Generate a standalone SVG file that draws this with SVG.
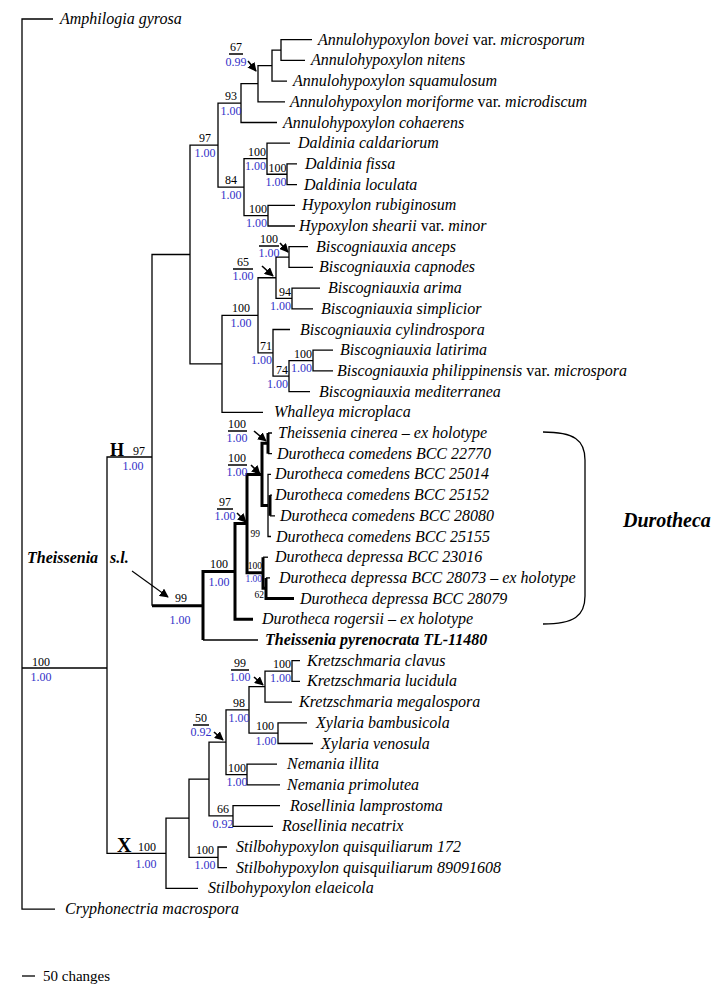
<svg xmlns="http://www.w3.org/2000/svg" width="718" height="990" viewBox="0 0 718 990">
<style>
.br{fill:none;stroke:#000;stroke-width:1.3}
.tk{fill:none;stroke:#000;stroke-width:3}
.ar{fill:none;stroke:#000;stroke-width:1.6}
.t{font-family:"Liberation Serif","Times New Roman",serif;font-style:italic;font-size:16px;fill:#000}
.r{font-style:normal}
.bd{font-weight:bold}
.n{font-family:"Liberation Serif","Times New Roman",serif;font-size:12px;fill:#000}
.p{font-family:"Liberation Serif","Times New Roman",serif;font-size:12px;fill:#3232c8}
.sm{font-size:9.5px}
.e{text-anchor:end}
.m{text-anchor:middle}
.cl{font-family:"Liberation Serif","Times New Roman",serif;font-weight:bold;fill:#000}
</style>
<defs>
<marker id="ah" viewBox="0 0 10 10" refX="9" refY="5" markerWidth="9" markerHeight="9" markerUnits="userSpaceOnUse" orient="auto"><path d="M0,0 L10,5 L0,10 z" fill="#000"/></marker>
</defs>
<rect width="718" height="990" fill="#fff"/>
<g id="connectors">
<path class="br" d="M53,19 H22 V909.1 H55 M22,668 H107"/>
<path class="br" d="M152,457 H107 V853.3 H166"/>
<path class="br" d="M190,254.5 H152 V605.7"/>
<path class="br" d="M218,145.15 H190 V363.8 H222"/>
<path class="br" d="M241,103.1 H218 V187.2 H244"/>
<path class="br" d="M258,83.7 H241 V122.5 H277"/>
<path class="br" d="M272,65.6 H258 V101.8 H285"/>
<path class="br" d="M281,50.05 H272 V81.1 H287"/>
<path class="br" d="M312,39.7 H281 V60.4 H305"/>
<path class="br" d="M267,158.7 H244 V215.65 H268"/>
<path class="br" d="M290,143.2 H267 V174.25 H287"/>
<path class="br" d="M297,163.9 H287 V184.6 H297"/>
<path class="br" d="M295,205.3 H268 V226 H295"/>
<path class="br" d="M258,315.3 H222 V412.3 H263"/>
<path class="br" d="M276,277.75 H258 V352.8 H273"/>
<path class="br" d="M289,257.05 H276 V298.45 H292"/>
<path class="br" d="M308,246.7 H289 V267.4 H313"/>
<path class="br" d="M320,288.1 H292 V308.8 H313"/>
<path class="br" d="M290,329.5 H273 V376.1 H289"/>
<path class="br" d="M313,360.55 H289 V391.6 H310"/>
<path class="br" d="M333,350.2 H313 V370.9 H333"/>
<path class="tk" d="M152,605.7 H203"/>
<path class="tk" d="M203,640 V571.4 H235"/>
<path class="br" d="M203,640 H258"/>
<path class="tk" d="M247,523.55 H235 V619.3 H253"/>
<path class="tk" d="M262,474.4 H247 V572.7 H263"/>
<path class="tk" d="M268,443.35 H262 V505.45 H268"/>
<path class="tk" d="M268,433 V453.7"/>
<path class="br" d="M268,433 H272 M268,453.7 H272"/>
<path class="br" d="M271,474.4 H268 V536.5 H271"/>
<path class="tk" d="M270,495.1 V515.8"/>
<path class="br" d="M270,495.1 H272 M270,515.8 H275"/>
<path class="tk" d="M263,557.2 V588.25 H266"/>
<path class="br" d="M263,557.2 H268"/>
<path class="tk" d="M266,577.9 V598.6 H294"/>
<path class="br" d="M266,577.9 H270"/>
<path class="br" d="M189,818.2 H166 V888.4 H198"/>
<path class="br" d="M209,779.1 H189 V857.35 H218"/>
<path class="br" d="M227,847 H218 V867.7 H227"/>
<path class="br" d="M226,742.2 H209 V815.95 H233"/>
<path class="br" d="M280,805.6 H233 V826.3 H273"/>
<path class="br" d="M249,709.9 H226 V774.55 H247"/>
<path class="br" d="M277,764.2 H247 V784.9 H280"/>
<path class="br" d="M265,686.6 H249 V733.15 H278"/>
<path class="br" d="M307,722.8 H278 V743.5 H313"/>
<path class="br" d="M292,671.05 H265 V702.1 H292"/>
<path class="br" d="M300,660.7 H292 V681.4 H300"/>
<path class="ar" d="M248,61 L256,71" marker-end="url(#ah)"/>
<path class="ar" d="M280,243 L288,252" marker-end="url(#ah)"/>
<path class="ar" d="M262,266 L273,276" marker-end="url(#ah)"/>
<path class="ar" d="M254,431 L266,441" marker-end="url(#ah)"/>
<path class="ar" d="M251,465 L260,474" marker-end="url(#ah)"/>
<path class="ar" d="M237,513 L246,522" marker-end="url(#ah)"/>
<path class="ar" d="M254,677 L263,685" marker-end="url(#ah)"/>
<path class="ar" d="M214,732 L223,740" marker-end="url(#ah)"/>
<path d="M132,571 L168,597" fill="none" stroke="#000" stroke-width="1.1" marker-end="url(#ah)"/>
<path class="br" d="M229,54 H243 M259,246 H279 M233,269 H253 M228,431 H247 M228,465 H247 M217,509 H233 M231,670 H249 M193,725 H209"/>
<path class="br" d="M543,432 C574,432 585,440 585,460 V596 C585,616 574,624 543,624"/>
<path class="br" d="M22,976 H35"/>
</g>
<g id="leaves">
<g id="n1"><text class="t" x="60" y="24">Amphilogia gyrosa</text></g>
<g id="n2"><text class="t" x="318" y="44.7">Annulohypoxylon bovei<tspan class="r"> var. </tspan>microsporum</text></g>
<g id="n3"><text class="t" x="311" y="65.4">Annulohypoxylon nitens</text></g>
<g id="n4"><text class="t" x="293" y="86.1">Annulohypoxylon squamulosum</text></g>
<g id="n5"><text class="t" x="290" y="106.8">Annulohypoxylon moriforme<tspan class="r"> var. </tspan>microdiscum</text></g>
<g id="n6"><text class="t" x="283" y="127.5">Annulohypoxylon cohaerens</text></g>
<g id="n7"><text class="t" x="298" y="148.2">Daldinia caldariorum</text></g>
<g id="n8"><text class="t" x="305" y="168.9">Daldinia fissa</text></g>
<g id="n9"><text class="t" x="304" y="189.6">Daldinia loculata</text></g>
<g id="n10"><text class="t" x="302" y="210.3">Hypoxylon rubiginosum</text></g>
<g id="n11"><text class="t" x="299" y="231">Hypoxylon shearii<tspan class="r"> var. </tspan>minor</text></g>
<g id="n12"><text class="t" x="316" y="251.7">Biscogniauxia anceps</text></g>
<g id="n13"><text class="t" x="319" y="272.4">Biscogniauxia capnodes</text></g>
<g id="n14"><text class="t" x="328" y="293.1">Biscogniauxia arima</text></g>
<g id="n15"><text class="t" x="321" y="313.8">Biscogniauxia simplicior</text></g>
<g id="n16"><text class="t" x="300" y="334.5">Biscogniauxia cylindrospora</text></g>
<g id="n17"><text class="t" x="340" y="355.2">Biscogniauxia latirima</text></g>
<g id="n18"><text class="t" x="337" y="375.9">Biscogniauxia philippinensis<tspan class="r"> var. </tspan>microspora</text></g>
<g id="n19"><text class="t" x="319" y="396.6">Biscogniauxia mediterranea</text></g>
<g id="n20"><text class="t" x="274" y="417.3">Whalleya microplaca</text></g>
<g id="n21"><text class="t" x="278" y="438">Theissenia cinerea – ex holotype</text></g>
<g id="n22"><text class="t" x="277" y="458.7">Durotheca comedens BCC 22770</text></g>
<g id="n23"><text class="t" x="275" y="479.4">Durotheca comedens BCC 25014</text></g>
<g id="n24"><text class="t" x="275" y="500.1">Durotheca comedens BCC 25152</text></g>
<g id="n25"><text class="t" x="280" y="520.8">Durotheca comedens BCC 28080</text></g>
<g id="n26"><text class="t" x="276" y="541.5">Durotheca comedens BCC 25155</text></g>
<g id="n27"><text class="t" x="275" y="562.2">Durotheca depressa BCC 23016</text></g>
<g id="n28"><text class="t" x="279" y="582.9">Durotheca depressa BCC 28073 – ex holotype</text></g>
<g id="n29"><text class="t" x="300" y="603.6">Durotheca depressa BCC 28079</text></g>
<g id="n30"><text class="t" x="262" y="624.3">Durotheca rogersii – ex holotype</text></g>
<g id="n31"><text class="t bd" x="265" y="645">Theissenia pyrenocrata TL-11480</text></g>
<g id="n32"><text class="t" x="307" y="665.7">Kretzschmaria clavus</text></g>
<g id="n33"><text class="t" x="307" y="686.4">Kretzschmaria lucidula</text></g>
<g id="n34"><text class="t" x="299" y="707.1">Kretzschmaria megalospora</text></g>
<g id="n35"><text class="t" x="316" y="727.8">Xylaria bambusicola</text></g>
<g id="n36"><text class="t" x="321" y="748.5">Xylaria venosula</text></g>
<g id="n37"><text class="t" x="287" y="769.2">Nemania illita</text></g>
<g id="n38"><text class="t" x="287" y="789.9">Nemania primolutea</text></g>
<g id="n39"><text class="t" x="290" y="810.6">Rosellinia lamprostoma</text></g>
<g id="n40"><text class="t" x="282" y="831.3">Rosellinia necatrix</text></g>
<g id="n41"><text class="t" x="236" y="852">Stilbohypoxylon quisquiliarum 172</text></g>
<g id="n42"><text class="t" x="236" y="872.7">Stilbohypoxylon quisquiliarum 89091608</text></g>
<g id="n43"><text class="t" x="208" y="893.4">Stilbohypoxylon elaeicola</text></g>
<g id="n44"><text class="t" x="65" y="914.1">Cryphonectria macrospora</text></g>
</g>
<g id="supports">
<g id="s1"><text class="n m" x="236" y="51">67</text><text class="p m" x="236" y="66">0.99</text></g>
<g id="s2"><text class="n m" x="231" y="100">93</text><text class="p m" x="231" y="115">1.00</text></g>
<g id="s3"><text class="n m" x="205" y="142">97</text><text class="p m" x="205" y="157">1.00</text></g>
<g id="s4"><text class="n m" x="231" y="184">84</text><text class="p m" x="231" y="199">1.00</text></g>
<g id="s5"><text class="n e" x="266" y="156">100</text><text class="p e" x="266" y="170">1.00</text></g>
<g id="s6"><text class="n e" x="286.5" y="172">100</text><text class="p e" x="286.5" y="186">1.00</text></g>
<g id="s7"><text class="n e" x="267" y="213">100</text><text class="p e" x="267" y="227">1.00</text></g>
<g id="s8"><text class="n m" x="269" y="243">100</text><text class="p m" x="269" y="257">1.00</text></g>
<g id="s9"><text class="n m" x="243" y="266">65</text><text class="p m" x="243" y="280">1.00</text></g>
<g id="s10"><text class="n e" x="291" y="296">94</text><text class="p e" x="291" y="310">1.00</text></g>
<g id="s11"><text class="n m" x="241" y="312">100</text><text class="p m" x="241" y="327">1.00</text></g>
<g id="s12"><text class="n e" x="272" y="350">71</text><text class="p e" x="272" y="364">1.00</text></g>
<g id="s13"><text class="n e" x="312" y="358">100</text><text class="p e" x="312" y="372">1.00</text></g>
<g id="s14"><text class="n e" x="288" y="374">74</text><text class="p e" x="288" y="388">1.00</text></g>
<g id="sH"><text class="cl" x="110" y="456" style="font-size:18px">H</text><text class="n" x="133" y="455">97</text><text class="p m" x="133" y="470">1.00</text></g>
<g id="s16"><text class="n m" x="237" y="428">100</text><text class="p m" x="237" y="442">1.00</text></g>
<g id="s17"><text class="n m" x="237" y="462">100</text><text class="p m" x="237" y="476">1.00</text></g>
<g id="s18"><text class="n m" x="225" y="506">97</text><text class="p m" x="225" y="520">1.00</text></g>
<g id="s19"><text class="n sm e" x="260" y="537">99</text></g>
<g id="s20"><text class="n sm e" x="262" y="569">100</text><text class="p sm e" x="262" y="582">1.00</text></g>
<g id="s21"><text class="n sm e" x="264" y="598">62</text></g>
<g id="s22"><text class="n m" x="219" y="568">100</text><text class="p m" x="219" y="586">1.00</text></g>
<g id="s23"><text class="n m" x="181" y="602">99</text><text class="p m" x="180" y="624">1.00</text></g>
<g id="sT"><text class="t bd" x="27" y="563">Theissenia</text><text class="t bd" x="110" y="563">s.l.</text></g>
<g id="sR"><text class="n m" x="41" y="666">100</text><text class="p m" x="41" y="681">1.00</text></g>
<g id="sX"><text class="cl" x="117" y="852" style="font-size:20px">X</text><text class="n" x="138" y="851">100</text><text class="p m" x="146" y="868">1.00</text></g>
<g id="s27"><text class="n m" x="240" y="667">99</text><text class="p m" x="240" y="681">1.00</text></g>
<g id="s28"><text class="n e" x="291" y="668">100</text><text class="p e" x="291" y="682">1.00</text></g>
<g id="s29"><text class="n m" x="239" y="707">98</text><text class="p m" x="239" y="722">1.00</text></g>
<g id="s30"><text class="n m" x="201" y="722">50</text><text class="p m" x="201" y="736">0.92</text></g>
<g id="s31"><text class="n m" x="265" y="730">100</text><text class="p m" x="266" y="745">1.00</text></g>
<g id="s32"><text class="n m" x="237" y="772">100</text><text class="p m" x="237" y="786">1.00</text></g>
<g id="s33"><text class="n m" x="223" y="813">66</text><text class="p m" x="223" y="828">0.92</text></g>
<g id="s34"><text class="n m" x="205" y="854">100</text><text class="p m" x="205" y="869">1.00</text></g>
<g id="sD"><text class="t bd" x="623" y="527" style="font-size:20px">Durotheca</text></g>
<g id="scale"><text class="n" x="43" y="981" style="font-size:15px">50 changes</text></g>
</g>
</svg>
